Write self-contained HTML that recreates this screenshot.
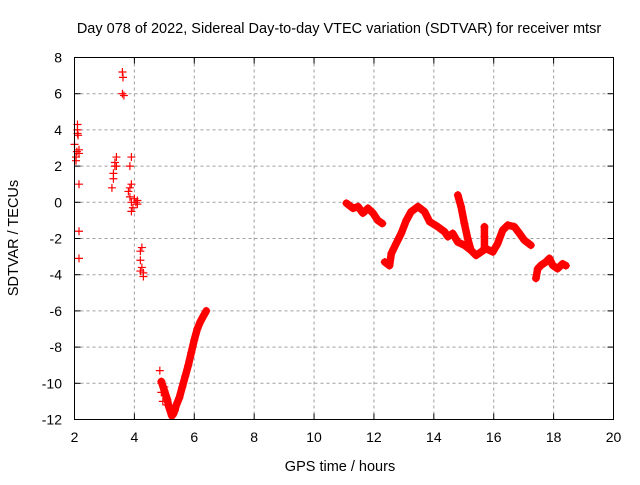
<!DOCTYPE html>
<html><head><meta charset="utf-8"><style>
body{margin:0;background:#fff;font-family:"Liberation Sans",sans-serif;}
svg text{font-family:"Liberation Sans",sans-serif;fill:#000;}
</style></head><body>
<svg id="chart" width="640" height="480" viewBox="0 0 640 480" xmlns="http://www.w3.org/2000/svg">
<rect width="640" height="480" fill="#fff"/>
<text x="339" y="33" font-size="14.5" text-anchor="middle">Day 078 of 2022, Sidereal Day-to-day VTEC variation (SDTVAR) for receiver mtsr</text>
<text x="340" y="471" font-size="14.5" text-anchor="middle">GPS time / hours</text>
<text x="18" y="238" font-size="14.5" text-anchor="middle" transform="rotate(-90 18 238)">SDTVAR / TECUs</text>
<g id="grid"></g><g id="ticks"></g><g id="marks"></g>
<rect x="74.5" y="57.5" width="539" height="362" fill="none" stroke="#000" stroke-width="1"/>
</svg>
<script>
const xTicks=[2,4,6,8,10,12,14,16,18,20];
const yTicks=[8,6,4,2,0,-2,-4,-6,-8,-10,-12];
const scatterX=[2.0,2.05,2.05,2.08,2.1,2.1,2.1,2.12,2.15,2.15,2.15,2.15,2.15,3.25,3.3,3.3,3.35,3.35,3.4,3.4,3.6,3.62,3.6,3.65,3.8,3.85,3.85,3.9,3.9,3.85,3.9,3.95,3.9,4.0,4.05,4.1,4.1,4.2,4.25,4.2,4.2,4.25,4.3,4.3,4.85,4.9,4.9,4.95,5.0,5.05,5.1];
const scatterY=[3.2,2.3,2.5,2.8,4.0,4.3,3.8,3.7,2.7,2.9,1.0,-1.6,-3.1,0.8,1.3,1.6,2.0,2.2,2.0,2.5,7.2,6.9,6.0,5.9,0.6,0.8,2.0,2.5,1.0,0.3,0.0,-0.3,-0.5,0.2,0.0,0.1,-0.1,-2.7,-2.5,-3.2,-3.8,-3.6,-3.9,-4.1,-9.3,-10,-10.5,-11,-10.2,-10.7,-11.2];
const seg1X=[4.9,5.0,5.1,5.15,5.25,5.3,5.35,5.4,5.5,5.6,5.7,5.8,5.9,6.0,6.1,6.2,6.3,6.4];
const seg1Y=[-9.9,-10.4,-10.9,-11.3,-11.8,-11.7,-11.5,-11.2,-10.8,-10.2,-9.6,-9.0,-8.3,-7.6,-7.0,-6.6,-6.3,-6.0];
const seg2X=[11.08,11.3,11.47,11.63,11.8,11.97,12.13,12.28];
const seg2Y=[-0.05,-0.33,-0.24,-0.6,-0.33,-0.6,-1.0,-1.17];
const seg3X=[12.36,12.52,12.58,12.74,12.91,13.08,13.24,13.47,13.69,13.86,14.13,14.36,14.47,14.63,14.8,15.02,15.24,15.41,15.58,15.74,15.97,16.13,16.3,16.47,16.69,16.86,17.02,17.24];
const seg3Y=[-3.3,-3.5,-2.83,-2.28,-1.72,-1.0,-0.52,-0.24,-0.52,-1.07,-1.35,-1.63,-1.9,-1.72,-2.2,-2.37,-2.65,-2.93,-2.74,-2.56,-2.74,-2.28,-1.54,-1.26,-1.35,-1.72,-2.09,-2.37];
const seg4X=[14.8,14.91,15.02,15.13,15.24];
const seg4Y=[0.4,-0.24,-1.17,-2.0,-2.65];
const seg5X=[15.69,15.69,15.69];
const seg5Y=[-1.35,-1.9,-2.5];
const seg6X=[17.41,17.47,17.58,17.74,17.86,17.97,18.13,18.3,18.41];
const seg6Y=[-4.2,-3.67,-3.48,-3.3,-3.1,-3.48,-3.67,-3.4,-3.5];
const NS='http://www.w3.org/2000/svg';
const X=v=>74.5+(v-2)*(539/18);
const Y=v=>57.5+(8-v)*(362/20);
function mk(t,a,p){const e=document.createElementNS(NS,t);for(const k in a)e.setAttribute(k,a[k]);p.appendChild(e);return e;}
const grid=document.getElementById('grid'),ticks=document.getElementById('ticks'),marks=document.getElementById('marks');
xTicks.forEach(v=>{const x=X(v);
 if(v>2&&v<20){const l=mk('line',{x1:x,x2:x,y1:57.5,y2:419.5,stroke:'#a0a0a0','stroke-dasharray':'3,3'},grid);
 
 }
 mk('line',{x1:x,x2:x,y1:419.5,y2:413.5,stroke:'#000'},ticks);
 mk('line',{x1:x,x2:x,y1:57.5,y2:63.5,stroke:'#000'},ticks);
 const t=mk('text',{x:x,y:442,'font-size':14,'text-anchor':'middle'},ticks);t.textContent=v;
 
 });
yTicks.forEach(v=>{const y=Y(v);
 if(v>-12&&v<8){const l=mk('line',{x1:74.5,x2:613.5,y1:y,y2:y,stroke:'#a0a0a0','stroke-dasharray':'3,3'},grid);
 
 }
 mk('line',{x1:74.5,x2:80.5,y1:y,y2:y,stroke:'#000'},ticks);
 mk('line',{x1:613.5,x2:607.5,y1:y,y2:y,stroke:'#000'},ticks);
 const t=mk('text',{x:62,y:y+5,'font-size':14,'text-anchor':'end'},ticks);t.textContent=v;
 
 });
function plus(x,y){const p=mk('path',{d:`M${X(x)-4},${Y(y)}h8M${X(x)},${Y(y)-4}v8`,stroke:'#f00','stroke-width':1.2,fill:'none'},marks);
 
 }
function seg(xs,ys,name){const pts=xs.map((x,i)=>X(x)+','+Y(ys[i])).join(' ');
 const l=mk('polyline',{points:pts,stroke:'#f00','stroke-width':7.5,fill:'none','stroke-linejoin':'round','stroke-linecap':'round'},marks);
 
 
 xs.forEach((x,i)=>plus(x,ys[i]));}
scatterX.forEach((x,i)=>plus(x,scatterY[i]));
seg(seg1X,seg1Y,'series-arc-1');seg(seg2X,seg2Y,'series-arc-2');seg(seg3X,seg3Y,'series-arc-3');
seg(seg4X,seg4Y,'series-arc-4');seg(seg5X,seg5Y,'series-arc-5');seg(seg6X,seg6Y,'series-arc-6');
</script>
</body></html>
